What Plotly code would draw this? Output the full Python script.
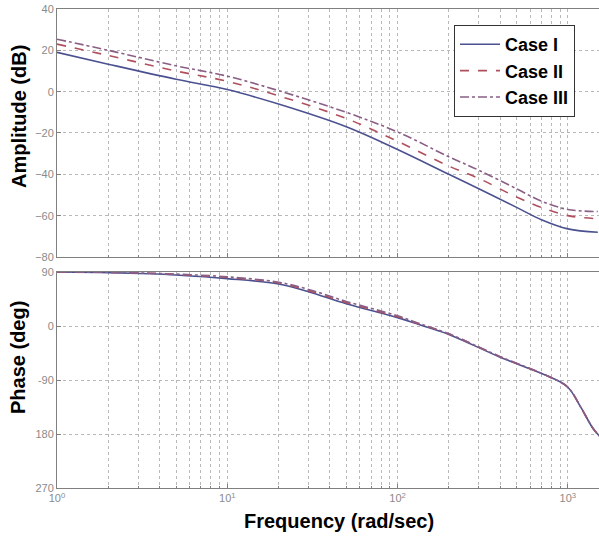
import plotly.graph_objects as go

# ---------------- data ----------------
case_names = ["Case I", "Case II", "Case III"]

freq_amp = [1, 2, 5, 10, 20, 50, 100, 200, 300, 500, 700, 1000, 1500]
amp_case1 = [19, 13.3, 6, 1, -6, -17, -28, -40, -47, -56, -62, -66.4, -68]
amp_case2 = [23, 17.5, 10, 5, -2, -13, -24, -36, -42, -51, -56, -60, -61.5]
amp_case3 = [25.4, 20, 12.5, 7.5, 0.5, -10, -19.5, -31.5, -38, -47, -53, -57, -58]

freq_ph = [1, 2, 3.5, 5, 10, 20, 30, 50, 100, 135, 200, 400, 785, 1000, 1200, 1400, 1550]
ph_case1 = [90, 89, 87, 85, 79, 70, 57, 37, 14, 2, -14, -52, -85, -102, -137, -170, -185]
ph_case2 = [90, 89.5, 88, 86, 81, 72, 59, 39, 15.5, 3, -13, -51, -85, -102, -137, -170, -185]
ph_case3 = [90, 89.5, 88, 86.5, 82, 73, 61, 41, 17, 4, -13, -51, -85, -102, -137, -170, -185]

amp_ticks = [-80, -60, -40, -20, 0, 20, 40]
ph_tickvals = [90, 0, -90, -180, -270]
ph_ticktext = ["90", "0", "-90", "180", "270"]
decades = [1, 10, 100, 1000]
decade_labels = ["10<sup>0</sup>", "10<sup>1</sup>", "10<sup>2</sup>", "10<sup>3</sup>"]

# ---------------- styling ----------------
colors = ["#4b5190", "#b0505e", "#8a5f86"]
dashes = ["solid", "dash", "dashdot"]
amps = [amp_case1, amp_case2, amp_case3]
phs = [ph_case1, ph_case2, ph_case3]

FONT = "Liberation Sans, Arial, sans-serif"
GRID = "#b8b8b8"
FRAME = "#808080"

# minor grid positions (2..9 per decade)
minor_vals = [d * m for d in decades for m in range(2, 10) if d * m <= 1600]

fig = go.Figure()
for i in range(3):
    fig.add_trace(go.Scatter(
        x=freq_amp, y=amps[i], xaxis="x", yaxis="y", mode="lines",
        name=case_names[i],
        line=dict(color=colors[i], dash=dashes[i], width=1.6, shape="spline")))
for i in range(3):
    fig.add_trace(go.Scatter(
        x=freq_ph, y=phs[i], xaxis="x2", yaxis="y2", mode="lines",
        name=case_names[i], showlegend=False,
        line=dict(color=colors[i], dash=dashes[i], width=1.6, shape="spline")))

xcommon = dict(
    type="log", range=[0, 3.183],
    tickmode="array", tickvals=decades,
    showgrid=True, gridcolor=GRID, griddash="dot", gridwidth=1,
    showline=True, linecolor=FRAME, linewidth=1, mirror=True,
    ticks="inside", ticklen=4, tickcolor=FRAME,
    zeroline=False,
    tickfont=dict(family=FONT, size=11, color="#8a8a8a"),
    minor=dict(tickmode="array", tickvals=minor_vals, ticks="inside", ticklen=2,
               tickcolor=FRAME, showgrid=True, gridcolor=GRID, griddash="dot", gridwidth=1),
)
ycommon = dict(
    showgrid=True, gridcolor=GRID, griddash="dot", gridwidth=1,
    showline=True, linecolor=FRAME, linewidth=1, mirror=True,
    ticks="inside", ticklen=4, tickcolor=FRAME,
    zeroline=False,
    tickfont=dict(family=FONT, size=11, color="#8a8a8a"),
)

fig.update_layout(
    width=599, height=539,
    margin=dict(l=57, r=0, t=9, b=51),
    paper_bgcolor="white", plot_bgcolor="white",
    font=dict(family=FONT),
    xaxis=dict(xcommon, anchor="y", domain=[0, 1], showticklabels=False, matches="x2"),
    yaxis=dict(ycommon, anchor="x", domain=[0.4823, 1], range=[-80, 40],
               tickmode="array", tickvals=amp_ticks),
    xaxis2=dict(xcommon, anchor="y2", domain=[0, 1], ticktext=decade_labels),
    yaxis2=dict(ycommon, anchor="x2", domain=[0, 0.4509], range=[-270, 90],
                tickmode="array", tickvals=ph_tickvals, ticktext=ph_ticktext),
    showlegend=True,
    legend=dict(
        x=(454 - 57) / 542, y=(488 - 25) / 479, xanchor="left", yanchor="top",
        bgcolor="white", bordercolor="#333333", borderwidth=1,
        font=dict(family=FONT, size=18, color="black", weight="bold"),
        tracegroupgap=0, itemwidth=40,
    ),
    annotations=[
        dict(text="<b>Amplitude (dB)</b>", xref="paper", yref="paper",
             x=(19 - 57) / 542, y=(488 - 117) / 479, textangle=-90,
             showarrow=False, xanchor="center", yanchor="middle",
             font=dict(family=FONT, size=20, color="black")),
        dict(text="<b>Phase (deg)</b>", xref="paper", yref="paper",
             x=(18 - 57) / 542, y=(488 - 358) / 479, textangle=-90,
             showarrow=False, xanchor="center", yanchor="middle",
             font=dict(family=FONT, size=20, color="black")),
        dict(text="<b>Frequency (rad/sec)</b>", xref="paper", yref="paper",
             x=(339 - 57) / 542, y=(488 - 521) / 479,
             showarrow=False, xanchor="center", yanchor="middle",
             font=dict(family=FONT, size=20, color="black")),
    ],
)

fig.write_html(
    "out.html",
    config={"displayModeBar": False},
    post_script="document.body.style.margin='0';document.body.style.overflow='hidden';",
)
